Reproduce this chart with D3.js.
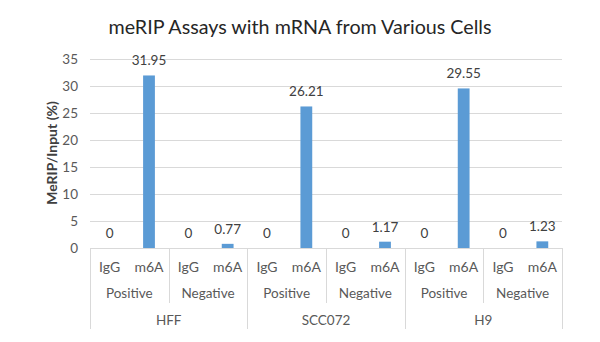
<!DOCTYPE html>
<html><head><meta charset="utf-8">
<script src="https://cdn.jsdelivr.net/npm/d3@7"></script>
<style>body{margin:0;background:#fff;} text{font-family:Lato, "Open Sans", sans-serif;}</style>
</head><body>
<svg id="c" width="600" height="342"></svg>
<script>
const cells = ["HFF", "SCC072", "H9"];
const controls = ["Positive", "Negative"];
const antibodies = ["IgG", "m6A"];
const values = [0, 31.95, 0, 0.77, 0, 26.21, 0, 1.17, 0, 29.55, 0, 1.23];
const yTicks = [0, 5, 10, 15, 20, 25, 30, 35];
const title = "meRIP Assays with mRNA from Various Cells";
const yTitle = "MeRIP/Input (%)";

const leaves = [];
cells.forEach(c => controls.forEach(g => antibodies.forEach(a => leaves.push({cell:c, ctrl:g, ab:a}))));
leaves.forEach((d,i) => { d.v = values[i]; d.key = i; });

const svg = d3.select("#c");
const L = 90, R = 562, T = 59, B = 248;
const x = d3.scaleBand().domain(leaves.map(d=>d.key)).range([L, R]).paddingInner(0.70).paddingOuter(0.35);
const y = d3.scaleLinear().domain([0, 35]).range([B, T]);
const step = x.step();

// gridlines
svg.append("g").selectAll("line").data(yTicks).join("line")
  .attr("x1", L).attr("x2", R).attr("y1", d=>Math.round(y(d))+0.5).attr("y2", d=>Math.round(y(d))+0.5)
  .attr("stroke", "#d9d9d9").attr("stroke-width", 1);

// y tick labels
svg.append("g").selectAll("text").data(yTicks).join("text")
  .attr("x", 78).attr("y", d=>y(d)).attr("dy", "0.35em").attr("text-anchor", "end")
  .attr("font-size", 13.5).attr("fill", "#595959").text(d=>d);

// bars
svg.append("g").selectAll("rect").data(leaves).join("rect")
  .attr("x", d=>x(d.key)).attr("width", x.bandwidth())
  .attr("y", d=>y(d.v)).attr("height", d=>B - y(d.v))
  .attr("fill", "#5b9bd5");

// data labels
svg.append("g").selectAll("text").data(leaves).join("text")
  .attr("x", d=>x(d.key)+x.bandwidth()/2).attr("y", d=>y(d.v)-10)
  .attr("text-anchor", "middle").attr("font-size", 13.5).attr("fill", "#404040")
  .text(d=>d.v);

// category axis lines
const axisC = "#d9d9d9";
svg.append("line").attr("x1", L).attr("x2", R).attr("y1", B+0.5).attr("y2", B+0.5).attr("stroke", axisC);
const nAb = antibodies.length, nCtrl = controls.length;
for (let i = 0; i <= leaves.length; i += nAb) {
  const xx = Math.round(L + i*step) + 0.5;
  const long = (i % (nAb*nCtrl)) === 0;
  svg.append("line").attr("x1", xx).attr("x2", xx).attr("y1", B).attr("y2", long ? 329 : 303).attr("stroke", axisC);
}
// leaf labels
svg.append("g").selectAll("text").data(leaves).join("text")
  .attr("x", d=>x(d.key)+x.bandwidth()/2).attr("y", 267).attr("dy", "0.35em")
  .attr("text-anchor", "middle").attr("font-size", 14).attr("fill", "#595959").text(d=>d.ab);
// control labels
const ctrlData = [];
cells.forEach((c,ci)=>controls.forEach((g,gi)=>ctrlData.push({g, i:(ci*nCtrl+gi)})));
svg.append("g").selectAll("text").data(ctrlData).join("text")
  .attr("x", d=>L + (d.i + 0.5)*nAb*step).attr("y", 293).attr("dy", "0.35em")
  .attr("text-anchor", "middle").attr("font-size", 13.5).attr("fill", "#595959").text(d=>d.g);
// cell labels
svg.append("g").selectAll("text").data(cells).join("text")
  .attr("x", (d,i)=>L + (i + 0.5)*nAb*nCtrl*step).attr("y", 320).attr("dy", "0.35em")
  .attr("text-anchor", "middle").attr("font-size", 13.5).attr("fill", "#595959").text(d=>d);

// title
svg.append("text").attr("x", 300).attr("y", 27).attr("dy", "0.35em").attr("text-anchor", "middle")
  .attr("font-size", 19.7).attr("fill", "#262626").text(title);
// y title
svg.append("text").attr("transform", "translate(52,153) rotate(-90)").attr("dy", "0.35em")
  .attr("text-anchor", "middle").attr("font-size", 14).attr("font-weight", "bold").attr("fill", "#404040").text(yTitle);
</script>
</body></html>
